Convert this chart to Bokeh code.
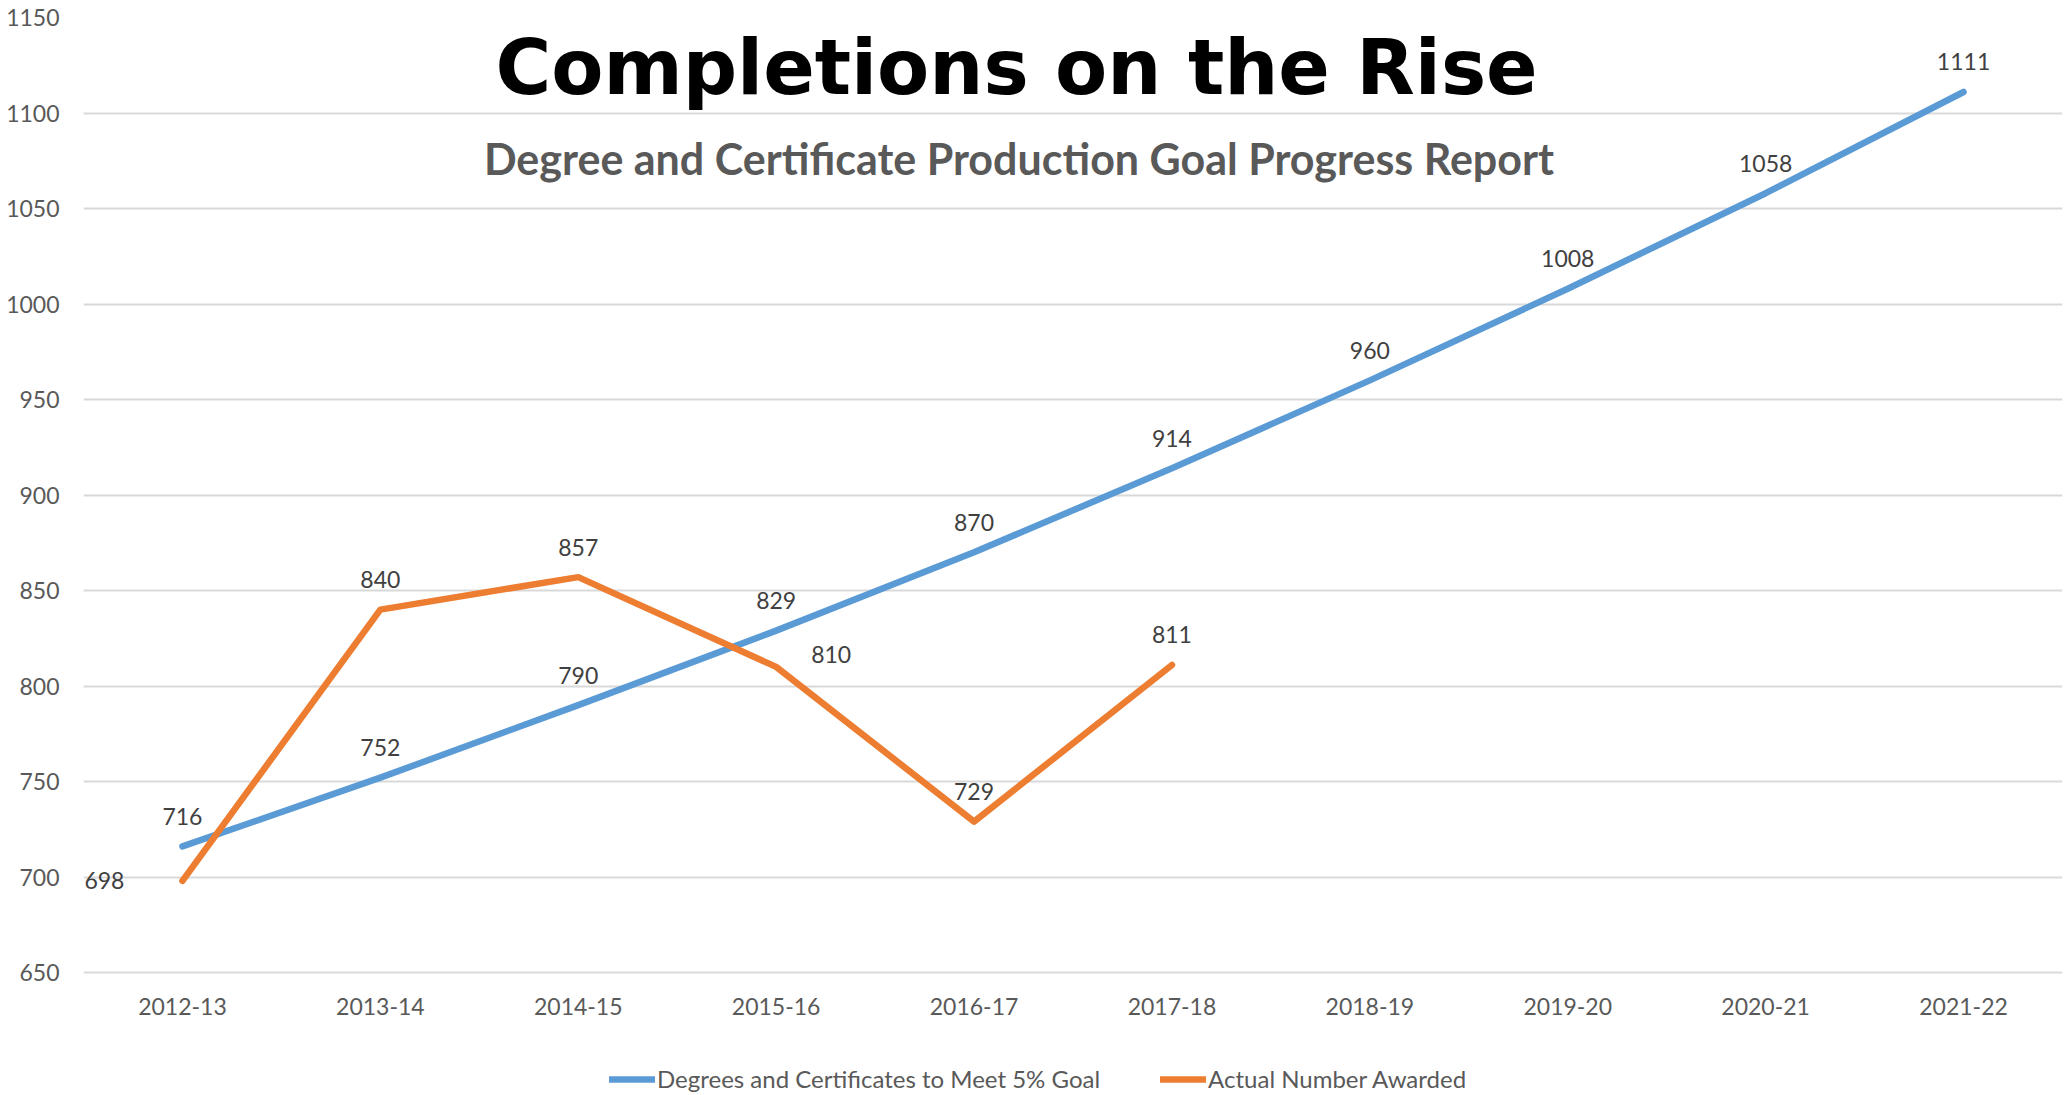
from bokeh.plotting import figure
from bokeh.models import (ColumnDataSource, LabelSet, Label, Legend, LegendItem,
                          Range1d, FactorRange, FixedTicker)
from bokeh.core.properties import value
from bokeh.embed import file_html
from bokeh.resources import INLINE

# ---- data ----
years = ["2012-13", "2013-14", "2014-15", "2015-16", "2016-17",
         "2017-18", "2018-19", "2019-20", "2020-21", "2021-22"]
goal = [716, 752, 790, 829, 870, 914, 960, 1008, 1058, 1111]
actual = [698, 840, 857, 810, 729, 811]
goal_name = "Degrees and Certificates to Meet 5% Goal"
actual_name = "Actual Number Awarded"
title_text = "Completions on the Rise"
subtitle_text = "Degree and Certificate Production Goal Progress Report"
y_ticks = [650, 700, 750, 800, 850, 900, 950, 1000, 1050, 1100, 1150]

# label placement (style)
goal_label_pos = ["above"] * len(goal)
actual_label_pos = ["left", "above", "above", "right", "above", "above"]
OFFS = {"above": (0, 30), "left": (-78, 0), "right": (55, 12)}

BLUE = "#5B9BD5"
ORANGE = "#ED7D31"
FONT = "Lato"

W, H = 2066, 1095
TOP, LEFT = 17, 83
AXIS_Y_PX = 972            # pixel row of the lowest gridline (650)
Y_MIN, Y_MAX = y_ticks[0], y_ticks[-1]
px_per_unit = (AXIS_Y_PX - TOP) / (Y_MAX - Y_MIN)
y_start = Y_MAX - (H - TOP) / px_per_unit

def make_source(xs, ys, pos):
    return ColumnDataSource(dict(
        x=xs, y=ys, txt=[str(v) for v in ys],
        dx=[OFFS[p][0] for p in pos], dy=[OFFS[p][1] for p in pos]))

src_goal = make_source(years, goal, goal_label_pos)
src_act = make_source(years[:len(actual)], actual, actual_label_pos)

p = figure(width=W, height=H, x_range=FactorRange(*years),
           y_range=Range1d(y_start, Y_MAX), output_backend="svg",
           toolbar_location=None, min_border_left=LEFT, min_border_right=4,
           min_border_top=TOP, min_border_bottom=0)
p.outline_line_color = None
p.background_fill_color = "white"
p.border_fill_color = "white"

p.xgrid.grid_line_color = None
p.ygrid.grid_line_color = "#D9D9D9"
p.ygrid.grid_line_width = 2
p.yaxis.ticker = FixedTicker(ticks=y_ticks)

for ax in (p.xaxis[0], p.yaxis[0]):
    ax.axis_line_color = None
    ax.major_tick_line_color = None
    ax.minor_tick_line_color = None
    ax.major_tick_out = 0
    ax.major_tick_in = 0
    ax.major_label_text_font = FONT
    ax.major_label_text_font_size = "23px"
    ax.major_label_text_color = "#595959"
p.xaxis.fixed_location = Y_MIN
p.xaxis.major_label_standoff = 25
p.yaxis.major_label_standoff = 24

r_goal = p.line("x", "y", source=src_goal, line_color=BLUE, line_width=6.5,
                line_cap="round", line_join="round")
r_act = p.line("x", "y", source=src_act, line_color=ORANGE, line_width=6.5,
               line_cap="round", line_join="round")

for src in (src_goal, src_act):
    p.add_layout(LabelSet(x="x", y="y", text="txt", source=src,
                          x_offset="dx", y_offset="dy",
                          text_align="center", text_baseline="middle",
                          text_font=value(FONT), text_font_size=value("23px"),
                          text_color="#404040"))

p.add_layout(Label(x=4.715, y=1124, text=title_text, text_align="center",
                   text_baseline="middle", text_font="DejaVu Sans",
                   text_font_style="bold", text_font_size="76px",
                   text_color="black"))
p.add_layout(Label(x=4.727, y=1076, text=subtitle_text, text_align="center",
                   text_baseline="middle", text_font=FONT,
                   text_font_style="bold", text_font_size="43px",
                   text_color="#595959"))

legend = Legend(items=[LegendItem(label=goal_name, renderers=[r_goal]),
                       LegendItem(label=actual_name, renderers=[r_act])],
                orientation="horizontal", location=(526, 2),
                padding=0, margin=0, spacing=60, label_standoff=2,
                glyph_width=46, glyph_height=28,
                border_line_color=None, background_fill_alpha=0,
                label_text_font=FONT, label_text_font_size="24px",
                label_text_color="#595959")
p.add_layout(legend)

open("out.html", "w").write(file_html(p, INLINE))
